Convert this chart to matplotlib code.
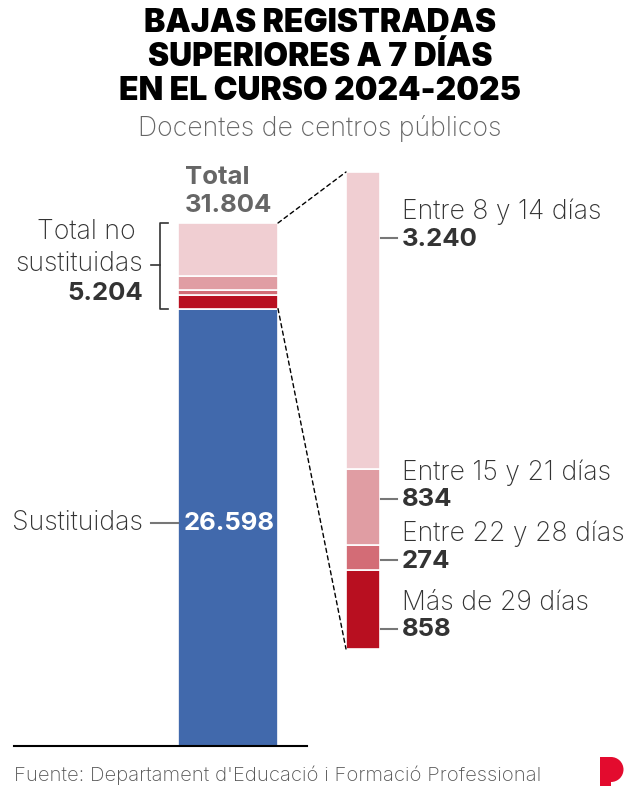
"""
Bajas registradas superiores a 7 dias, curso 2024-2025
"""

import matplotlib.pyplot as plt
from matplotlib.patches import ConnectionPatch, Rectangle, Wedge

# data
SUSTITUIDAS = 26598
NO_SUST_LABELS = ["Más de 29 días", "Entre 22 y 28 días", "Entre 15 y 21 días", "Entre 8 y 14 días"]
NO_SUST_VALUES = [858, 274, 834, 3240]
NO_SUST_TEXT = ["858", "274", "834", "3.240"]
TOTAL = SUSTITUIDAS + sum(NO_SUST_VALUES)
NO_SUST_TOTAL = sum(NO_SUST_VALUES)

BLUE = "#4169ac"
REDS = ["#b80f20", "#d36c76", "#e09da3", "#f0ced2"]
DARK = "#333333"
GREY = "#666666"
FONT = "Inter"
FS = 18.5   # bold numbers
FL = 19.2   # light labels

W, H = 640, 792
fig = plt.figure(figsize=(W / 100, H / 100), dpi=100)


def px(x0, y_bottom, w, h):
    # pixel box -> figure fraction
    return [x0 / W, (H - y_bottom) / H, w / W, h / H]


# main bar
ax1 = fig.add_axes(px(14, 746, 293, 523))
ax1.set_xlim(14, 307)
ax1.set_ylim(0, TOTAL)
ax1.axis("off")
ax1.bar(228, SUSTITUIDAS, width=100, color=BLUE, edgecolor="white", linewidth=1.2)
bottom = SUSTITUIDAS
for v, c in zip(NO_SUST_VALUES, REDS):
    ax1.bar(228, v, bottom=bottom, width=100, color=c, edgecolor="white", linewidth=1.2)
    bottom += v
ax1.axhline(0, color="black", lw=1.5, clip_on=False)

# breakdown bar
ax2 = fig.add_axes(px(346, 649, 34, 477))
ax2.set_xlim(0, 1)
ax2.set_ylim(0, NO_SUST_TOTAL)
ax2.axis("off")
bottom = 0
for v, c in zip(NO_SUST_VALUES, REDS):
    ax2.bar(0.5, v, bottom=bottom, width=1, color=c, edgecolor="white", linewidth=1.2)
    bottom += v

# dotted connectors
for y1, y2 in [(TOTAL, NO_SUST_TOTAL), (SUSTITUIDAS, 0)]:
    con = ConnectionPatch(
        xyA=(278, y1), coordsA=ax1.transData,
        xyB=(0, y2), coordsB=ax2.transData,
        color="black", lw=1, ls=(0, (3, 2.5)),
    )
    fig.add_artist(con)

# overlay in pixel coordinates for texts
ov = fig.add_axes([0, 0, 1, 1], zorder=5)
ov.set_xlim(0, W)
ov.set_ylim(H, 0)
ov.axis("off")

# title
for i, line in enumerate(["BAJAS REGISTRADAS", "SUPERIORES A 7 DÍAS", "EN EL CURSO 2024-2025"]):
    ov.text(320, 24 + i * 34, line, ha="center", va="center", fontsize=23,
            fontweight="black", family=FONT, color="black")
ov.text(320, 128, "Docentes de centros públicos", ha="center", va="center",
        fontsize=19.2, fontweight="light", family=FONT, color=GREY)

# total label
ov.text(185, 178, "Total", ha="left", va="center", fontsize=FS, fontweight="bold",
        family=FONT, color=GREY)
ov.text(185, 205, "31.804", ha="left", va="center", fontsize=FS, fontweight="bold",
        family=FONT, color=GREY)

# bracket for non-substituted
ov.plot([168, 160, 160, 168], [223, 223, 309, 309], color=DARK, lw=1.2)
ov.plot([151, 160], [265, 265], color=DARK, lw=1.2)
ov.text(136, 232, "Total no", ha="right", va="center", fontsize=FL, fontweight="light",
        family=FONT, color=DARK)
ov.text(143, 264, "sustituidas", ha="right", va="center", fontsize=FL, fontweight="light",
        family=FONT, color=DARK)
ov.text(143, 294, "5.204", ha="right", va="center", fontsize=FS, fontweight="bold",
        family=FONT, color=DARK)

# substituted label
ov.plot([151, 178], [523, 523], color="#777777", lw=1.5)
ov.text(143, 523, "Sustituidas", ha="right", va="center", fontsize=FL, fontweight="light",
        family=FONT, color=DARK)
ov.text(229, 523, f"{SUSTITUIDAS:,}".replace(",", "."), ha="center", va="center",
        fontsize=FS, fontweight="bold", family=FONT, color="white")

# breakdown labels
label_y = [629, 560, 499, 238]
for lab, txt, y in zip(NO_SUST_LABELS, NO_SUST_TEXT, label_y):
    ov.plot([381, 397], [y, y], color="#777777", lw=1.5)
    ov.text(402, y - 26, lab, ha="left", va="center", fontsize=FL, fontweight="light",
            family=FONT, color=DARK)
    ov.text(402, y + 1, txt, ha="left", va="center", fontsize=FS, fontweight="bold",
            family=FONT, color=DARK)

# source
ov.text(14, 775, "Fuente: Departament d'Educació i Formació Professional", ha="left",
        va="center", fontsize=14.6, fontweight="light", family=FONT, color="#555555")

# logo
ov.add_patch(Rectangle((600, 757), 11, 29, color="#e30b2e", lw=0))
ov.add_patch(Wedge((611, 769.5), 12.5, -90, 90, color="#e30b2e", lw=0))

plt.savefig("out.png", dpi=100)
